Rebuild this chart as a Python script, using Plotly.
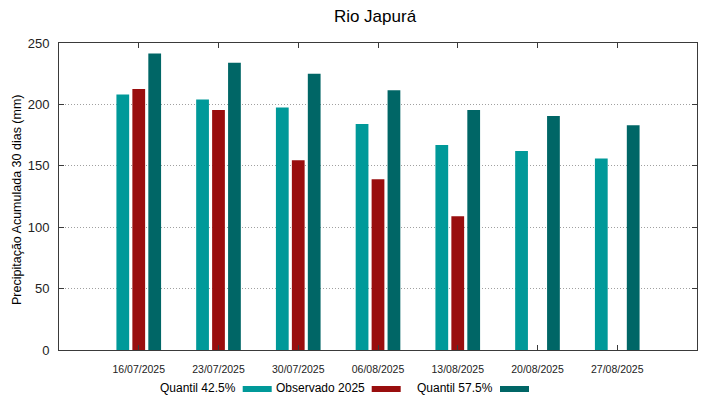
import plotly.graph_objects as go

categories = ["16/07/2025", "23/07/2025", "30/07/2025", "06/08/2025",
              "13/08/2025", "20/08/2025", "27/08/2025"]
q425 = [208, 204, 197.5, 184, 167, 162, 156]
obs2025 = [212.5, 195.5, 154.5, 139, 109, None, None]
q575 = [241.5, 234, 225, 211.5, 195.5, 190.5, 183]

series_names = ["Quantil 42.5%", "Observado 2025", "Quantil 57.5%"]
colors = ["#009999", "#990e0e", "#006666"]

W, H = 719, 399
L, R, T, B = 59, 697, 43, 350
FONT = "Liberation Sans, Arial, sans-serif"

def px2x(px):
    return (px - L) / (R - L)

def py2y(py):
    return (B - py) / (B - T)

xs = list(range(len(categories)))
fig = go.Figure()
for name, vals, col in zip(series_names, [q425, obs2025, q575], colors):
    fig.add_trace(go.Bar(x=xs, y=vals, name=name, marker_color=col,
                         marker_line_width=0, showlegend=False))

axis_col = "#3a3a3a"
fig.update_layout(
    width=W, height=H,
    margin=dict(l=L, r=W - R, t=T, b=H - B, pad=0),
    plot_bgcolor="white", paper_bgcolor="white",
    barmode="group", bargap=0.4, bargroupgap=0.2,
    title=dict(text="Rio Japurá", x=375 / W,
               xanchor="center", y=(H - 16) / H, yanchor="middle",
               yref="container", xref="container",
               font=dict(family=FONT, size=17, color="black")),
    font=dict(family=FONT, color="black"),
)
fig.update_xaxes(range=[-1, 7], tickvals=xs, ticktext=categories,
                 ticks="inside", ticklen=5, tickcolor=axis_col, mirror="ticks",
                 showline=True, linecolor=axis_col, linewidth=1,
                 showgrid=False, zeroline=False, ticklabelstandoff=9,
                 tickfont=dict(family=FONT, size=10.5, color="#222"))
fig.update_yaxes(range=[0, 250], tickvals=[0, 50, 100, 150, 200, 250],
                 ticks="inside", ticklen=5, tickcolor=axis_col, mirror="ticks",
                 showline=True, linecolor=axis_col, linewidth=1,
                 showgrid=True, gridcolor="#a0a0a0", griddash="1px,2px", gridwidth=1,
                 zeroline=False, ticklabelstandoff=6,
                 tickfont=dict(family=FONT, size=13, color="#222"))

# y-axis title
fig.add_annotation(text="Precipitação Acumulada 30 dias (mm)", textangle=-90,
                   xref="paper", yref="paper", x=px2x(17), y=py2y(200),
                   xanchor="center", yanchor="middle", showarrow=False,
                   font=dict(family=FONT, size=12.5, color="black"))

# legend (text then sample, as in the reference)
sample_lefts = [242.7, 371.7, 500]
leg_y = 389
for name, col, sl in zip(series_names, colors, sample_lefts):
    fig.add_annotation(text=name, xref="paper", yref="paper",
                       x=px2x(sl - 5), y=py2y(leg_y - 1), xanchor="right",
                       yanchor="middle", showarrow=False,
                       font=dict(family=FONT, size=12, color="black"))
    fig.add_shape(type="rect", xref="paper", yref="paper",
                  x0=px2x(sl), x1=px2x(sl + 29), y0=py2y(leg_y + 3), y1=py2y(leg_y - 3),
                  fillcolor=col, line_width=0)

fig.write_html("out.html", config={"displayModeBar": False},
               post_script="document.body.style.margin='0';document.body.style.overflow='hidden';")
